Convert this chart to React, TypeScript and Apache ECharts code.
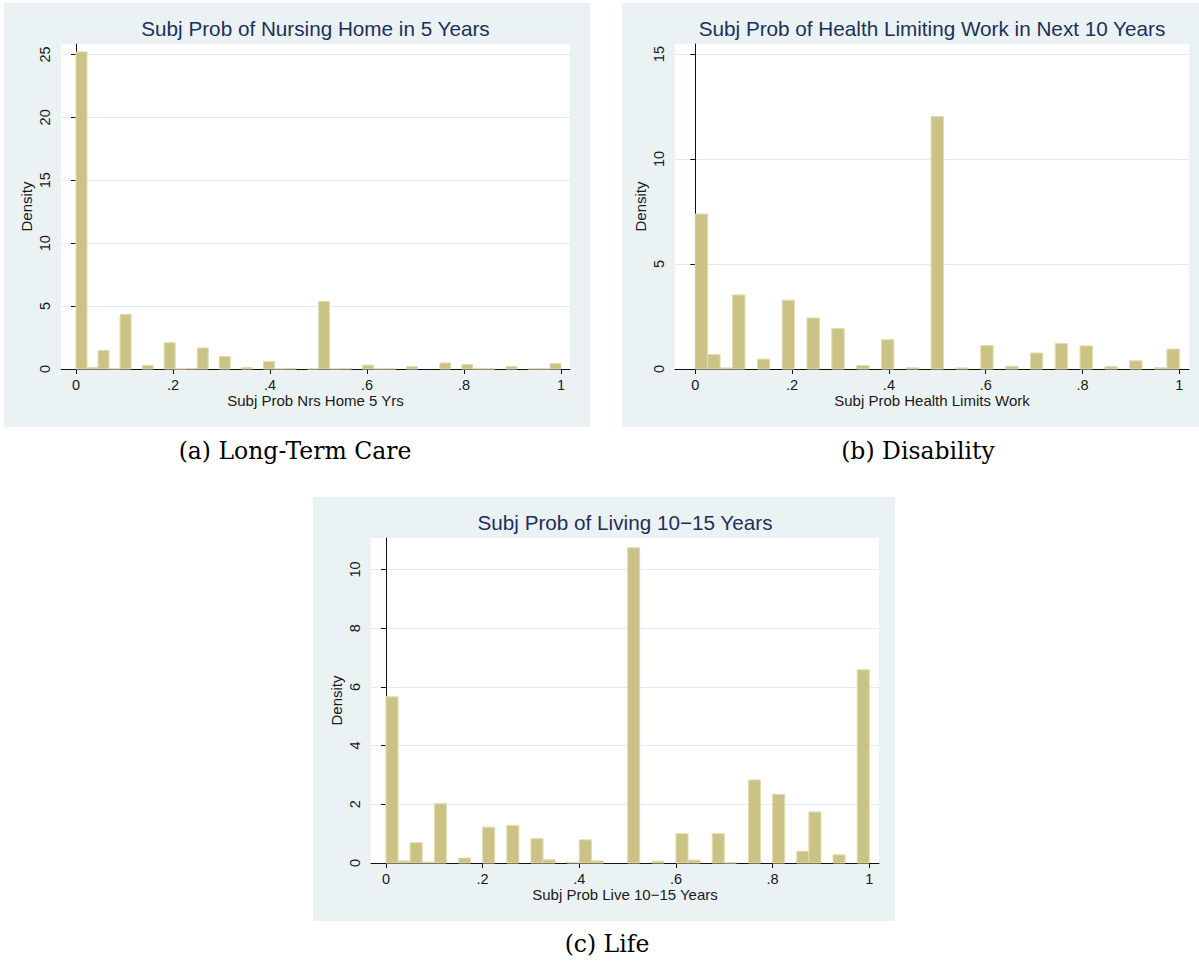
import React, { useEffect, useRef } from "react";
import * as echarts from "echarts";

// ---------- data ----------
const xTickValues = [0, 0.2, 0.4, 0.6, 0.8, 1];
const xTickLabels = ["0", ".2", ".4", ".6", ".8", "1"];

// (a) Long-Term Care
const ltcTitle = "Subj Prob of Nursing Home in 5 Years";
const ltcXName = "Subj Prob Nrs Home 5 Yrs";
const ltcCaption = "(a) Long-Term Care";
const ltcYTicks = [0, 5, 10, 15, 20, 25];
const ltcBinCount = 44;
const ltcDensity = [
  25.2, 0.13, 1.48, 0.02, 4.34, 0, 0.29, 0, 2.09, 0.01, 0.03,
  1.67, 0, 1.0, 0, 0.13, 0, 0.61, 0.02, 0.03, 0, 0.02,
  5.37, 0.02, 0.03, 0, 0.31, 0.02, 0.02, 0, 0.2, 0, 0,
  0.48, 0, 0.36, 0.02, 0.02, 0, 0.2, 0, 0.02, 0.02, 0.44,
];

// (b) Disability
const disTitle = "Subj Prob of Health Limiting Work in Next 10 Years";
const disXName = "Subj Prob Health Limits Work";
const disCaption = "(b) Disability";
const disYTicks = [0, 5, 10, 15];
const disBinCount = 39;
const disDensity = [
  7.38, 0.69, 0.05, 3.53, 0, 0.47, 0, 3.28, 0, 2.43, 0, 1.92, 0,
  0.17, 0, 1.4, 0, 0.06, 0, 12.03, 0, 0.05, 0, 1.12, 0, 0.13,
  0, 0.76, 0, 1.21, 0, 1.1, 0, 0.11, 0, 0.39, 0, 0.06, 0.95,
];

// (c) Life
const lifeTitle = "Subj Prob of Living 10\u221215 Years";
const lifeXName = "Subj Prob Live 10\u221215 Years";
const lifeCaption = "(c) Life";
const lifeYTicks = [0, 2, 4, 6, 8, 10];
const lifeBinCount = 40;
const lifeDensity = [
  5.66, 0.07, 0.69, 0.03, 2.02, 0, 0.17, 0, 1.22, 0, 1.28, 0, 0.83,
  0.11, 0, 0.02, 0.79, 0.07, 0, 0, 10.74, 0, 0.06, 0, 1.0, 0.1,
  0, 1.0, 0.01, 0, 2.83, 0, 2.34, 0, 0.4, 1.74, 0, 0.28, 0, 6.58,
];

// ---------- styles ----------
const FONT = "Liberation Sans, Arial, Helvetica, sans-serif";
const SERIF = "DejaVu Serif, serif";
const REGION_BG = "#EAF2F3";
const GRID_LINE = "#E3ECEE";
const BAR_FILL = "#CBC386";
const BAR_EDGE = "#E2DCB0";
const TITLE_COLOR = "#1f2f5c";
const TEXT_COLOR = "#1a1a1a";
const AXIS_COLOR = "#111111";

type Panel = {
  title: string;
  xName: string;
  caption: string;
  yTicks: number[];
  yInterval: number;
  bins: number;
  density: number[];
  box: { x: number; y: number; w: number; h: number };
  grid: { left: number; top: number; width: number; height: number };
  xMin: number;
  xMax: number;
  yMax: number;
  captionPos: [number, number];
};

const panels: Panel[] = [
  {
    title: ltcTitle,
    xName: ltcXName,
    caption: ltcCaption,
    yTicks: ltcYTicks,
    yInterval: 5,
    bins: ltcBinCount,
    density: ltcDensity,
    box: { x: 4, y: 3, w: 586, h: 424 },
    grid: { left: 61, top: 44, width: 509, height: 325 },
    xMin: -0.0309,
    xMax: 1.0186,
    yMax: 25.83,
    captionPos: [295, 451],
  },
  {
    title: disTitle,
    xName: disXName,
    caption: disCaption,
    yTicks: disYTicks,
    yInterval: 5,
    bins: disBinCount,
    density: disDensity,
    box: { x: 622, y: 3, w: 577, h: 424 },
    grid: { left: 675, top: 44, width: 514, height: 325 },
    xMin: -0.0419,
    xMax: 1.02,
    yMax: 15.48,
    captionPos: [918, 451],
  },
  {
    title: lifeTitle,
    xName: lifeXName,
    caption: lifeCaption,
    yTicks: lifeYTicks,
    yInterval: 2,
    bins: lifeBinCount,
    density: lifeDensity,
    box: { x: 313, y: 497, w: 582, h: 424 },
    grid: { left: 371, top: 538, width: 508, height: 325 },
    xMin: -0.031,
    xMax: 1.0201,
    yMax: 11.07,
    captionPos: [607, 944],
  },
];

const formatX = (v: number) => {
  const i = xTickValues.findIndex((t) => Math.abs(t - v) < 1e-6);
  return i >= 0 ? xTickLabels[i] : "";
};

const renderBar = (_params: any, api: any) => {
  const x0 = api.value(0);
  const x1 = api.value(1);
  const v = api.value(2);
  if (!v) return null;
  const p0 = api.coord([x0, v]);
  const p1 = api.coord([x1, 0]);
  return {
    type: "rect",
    shape: { x: p0[0], y: p0[1], width: p1[0] - p0[0], height: p1[1] - p0[1] },
    style: { fill: BAR_FILL, stroke: BAR_EDGE, lineWidth: 1 },
  };
};

function buildOption() {
  const graphic: any[] = [];
  panels.forEach((p) => {
    graphic.push({
      type: "rect",
      z: -10,
      shape: { x: p.box.x, y: p.box.y, width: p.box.w, height: p.box.h },
      style: { fill: REGION_BG },
      silent: true,
    });
    graphic.push({
      type: "text",
      z: 10,
      x: p.grid.left + p.grid.width / 2,
      y: p.box.y + 25,
      style: {
        text: p.title,
        fill: TITLE_COLOR,
        font: `20.7px ${FONT}`,
        align: "center",
        verticalAlign: "middle",
      },
    });
    graphic.push({
      type: "text",
      z: 10,
      x: p.captionPos[0],
      y: p.captionPos[1],
      style: {
        text: p.caption,
        fill: "#000",
        font: `23.5px ${SERIF}`,
        align: "center",
        verticalAlign: "middle",
      },
    });
  });

  return {
    animation: false,
    backgroundColor: "#ffffff",
    textStyle: { fontFamily: FONT },
    graphic,
    grid: panels.map((p) => ({
      left: p.grid.left,
      top: p.grid.top,
      width: p.grid.width,
      height: p.grid.height,
      show: true,
      backgroundColor: "#ffffff",
      borderWidth: 0,
      containLabel: false,
    })),
    xAxis: panels.map((p, i) => ({
      type: "value",
      gridIndex: i,
      min: p.xMin,
      max: p.xMax,
      name: p.xName,
      nameLocation: "middle",
      nameGap: 23,
      nameTextStyle: { color: TEXT_COLOR, fontSize: 15, fontFamily: FONT },
      axisLine: { show: true, onZero: false, lineStyle: { color: AXIS_COLOR, width: 1 } },
      axisTick: { show: true, length: 5, customValues: xTickValues, lineStyle: { color: AXIS_COLOR } },
      axisLabel: {
        customValues: xTickValues,
        formatter: formatX,
        color: TEXT_COLOR,
        fontSize: 14.5,
        fontFamily: FONT,
        margin: 8,
      },
      splitLine: { show: false },
    })),
    yAxis: panels.map((p, i) => ({
      type: "value",
      gridIndex: i,
      min: 0,
      max: p.yMax,
      interval: p.yInterval,
      name: "Density",
      nameLocation: "middle",
      nameGap: 27,
      nameTextStyle: { color: TEXT_COLOR, fontSize: 15, fontFamily: FONT },
      axisLine: { show: true, lineStyle: { color: AXIS_COLOR, width: 1 } },
      axisTick: { show: true, length: 5, customValues: p.yTicks, lineStyle: { color: AXIS_COLOR } },
      axisLabel: {
        customValues: p.yTicks,
        rotate: 90,
        color: TEXT_COLOR,
        fontSize: 14.5,
        fontFamily: FONT,
        margin: 9,
      },
      splitLine: { show: true, lineStyle: { color: GRID_LINE, width: 1 } },
    })),
    series: panels.map((p, i) => ({
      type: "custom",
      xAxisIndex: i,
      yAxisIndex: i,
      renderItem: renderBar,
      encode: { x: [0, 1], y: 2 },
      data: p.density.map((d, j) => [j / p.bins, (j + 1) / p.bins, d]),
      silent: true,
    })),
  };
}

export default function App() {
  const ref = useRef<HTMLDivElement>(null);
  useEffect(() => {
    if (!ref.current) return;
    const chart = echarts.init(ref.current, undefined, { renderer: "svg" });
    chart.setOption(buildOption() as any);
    return () => chart.dispose();
  }, []);
  return (
    <div
      ref={ref}
      style={{ position: "fixed", left: 0, top: 0, width: 1199, height: 961, background: "#fff" }}
    />
  );
}
